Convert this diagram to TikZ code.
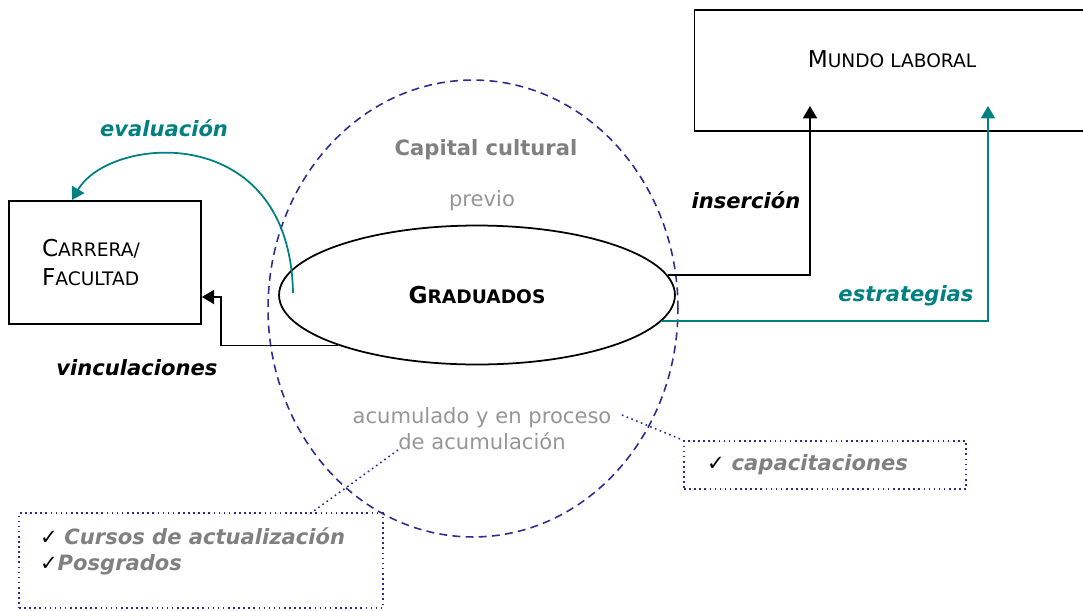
\documentclass[tikz,border=0pt]{standalone}
\usepackage{fontspec}
\setmainfont{DejaVu Sans}
\usetikzlibrary{arrows.meta,shapes.geometric}
\definecolor{tealline}{RGB}{0,128,128}
\definecolor{navydash}{RGB}{45,45,145}
\definecolor{grayfill}{RGB}{128,128,128}
\definecolor{graylight}{RGB}{150,150,150}
\newcommand{\fakesc}[2]{{\fontsize{13.2}{17}\selectfont#1}{\fontsize{10.6}{17}\selectfont #2}}
\begin{document}
\begin{tikzpicture}[x=0.02cm,y=-0.02cm,
  every node/.style={font=\fontsize{12}{14.7}\selectfont},
  bigbox/.style={draw,line width=1pt},
  notebox/.style={draw=navydash,dotted,line width=0.9pt},
  tip/.style={-{Triangle[length=7pt,width=8pt]}},
  tag/.style={font=\fontsize{12}{14.7}\selectfont\bfseries\itshape}]
\useasboundingbox (0,0) rectangle (1083,610);

\node[bigbox,minimum width=7.9cm,minimum height=2.42cm,text depth=0.45cm] (mundo) at (892,70.5)
  {\fakesc{M}{UNDO LABORAL}};
\node[bigbox,minimum width=3.84cm,minimum height=2.46cm,text width=2.52cm,
  inner xsep=0.66cm,align=left,font=\fontsize{12}{17}\selectfont] (carrera) at (105,262.5)
  {\fakesc{C}{ARRERA/}\\\fakesc{F}{ACULTAD}};

\node[ellipse,draw=navydash,dash pattern=on 4.5pt off 3pt,line width=0.9pt,
  minimum width=8.2cm,minimum height=9.14cm] (capital) at (473,308.5) {};
\node[ellipse,draw,line width=1pt,minimum width=7.92cm,minimum height=2.78cm,
  font=\fontsize{12}{14.7}\selectfont\bfseries] (grad) at (477,295) {\fakesc{G}{RADUADOS}};

\node[font=\fontsize{12}{14.7}\selectfont\bfseries,text=grayfill] (captxt) at (486,150) {Capital cultural};
\node[text=graylight] (previo) at (482,201) {previo};
\node[text=graylight,align=center] (acum) at (482,429) {acumulado y en proceso\\de acumulación};

\node[tag,text=tealline] (evaltxt) at (164,128) {evaluación};
\node[tag] (instxt) at (746,200) {inserción};
\node[tag,text=tealline] (estrtxt) at (906,296) {estrategias};
\node[tag] (vinctxt) at (137,368) {vinculaciones};

\node[notebox,minimum width=5.64cm,minimum height=0.96cm,text width=4.72cm,
  inner xsep=0.46cm,align=left] (capac) at (825,465)
  {\textcolor{black}{✓} {\bfseries\itshape\color{grayfill}capacitaciones}};
\node[notebox,minimum width=7.28cm,minimum height=1.9cm,inner xsep=0.42cm] (cursos) at (201,560.5)
  {\parbox[t][1.3cm][t]{6.44cm}{✓ {\bfseries\itshape\color{grayfill}Cursos de actualización}\\
   ✓{\bfseries\itshape\color{grayfill}Posgrados}}};

% connectors
\coordinate (insB) at (810,106);
\coordinate (estrB) at (988,106);
\coordinate (vincB) at (221,297);
\coordinate (evalA) at (293,293);
\coordinate (evalB) at (72,200);
\coordinate (acumA) at (398,450);
\coordinate (acumB) at (622,415);
\coordinate (cursosA) at (311,513);

\draw[tip,line width=1pt] (grad.6) -| (insB);
\draw[tip,line width=1pt,tealline] (grad.-8) -| (estrB);
\draw[tip,line width=1pt] (grad.200) -| (vincB) -- (carrera.east |- vincB);
\draw[tip,line width=1pt,tealline] (evalA) .. controls (290,120) and (110,135) .. (evalB);

\draw[notebox] (acumB) -- (capac.north west);
\draw[notebox] (acumA) -- (cursosA);
\end{tikzpicture}
\end{document}
